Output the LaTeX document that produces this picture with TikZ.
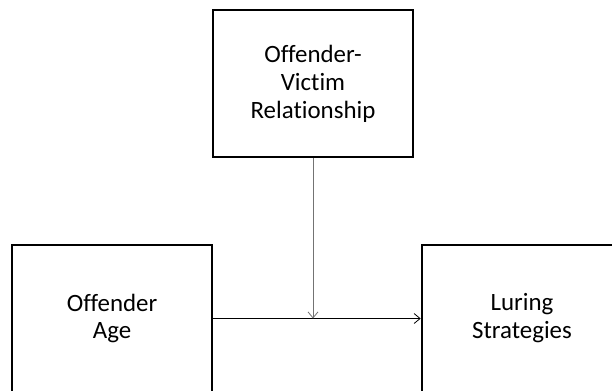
\documentclass[tikz,border=0pt]{standalone}
\usepackage{fontspec}
\setmainfont{Carlito}[Ligatures=CommonOff]
\usetikzlibrary{arrows.meta,positioning}

\begin{document}
\begin{tikzpicture}[
    x=1bp, y=-1bp,
    factorbox/.style={draw, line width=2.6bp, minimum width=200bp, minimum height=147bp, align=center, font=\fontsize{25}{28}\selectfont},
    arrow/.style={-{Straight Barb[length=6bp, width=10bp]}, line width=0.8bp}
  ]
  \useasboundingbox (0,0) rectangle (612,390);
  \node[factorbox] (relation) at (313,83.5) {Offender-\\Victim\\Relationship};
  \node[factorbox] (age) at (112,318.5) {Offender\\Age};
  \node[factorbox] (luring) at (522,318.5) {Luring\\Strategies};
  \coordinate (meet) at (relation.south |- age.east);
  \draw[arrow] (age) -- (luring);
  \draw[arrow, black!55] (relation) -- (meet);
\end{tikzpicture}
\end{document}
